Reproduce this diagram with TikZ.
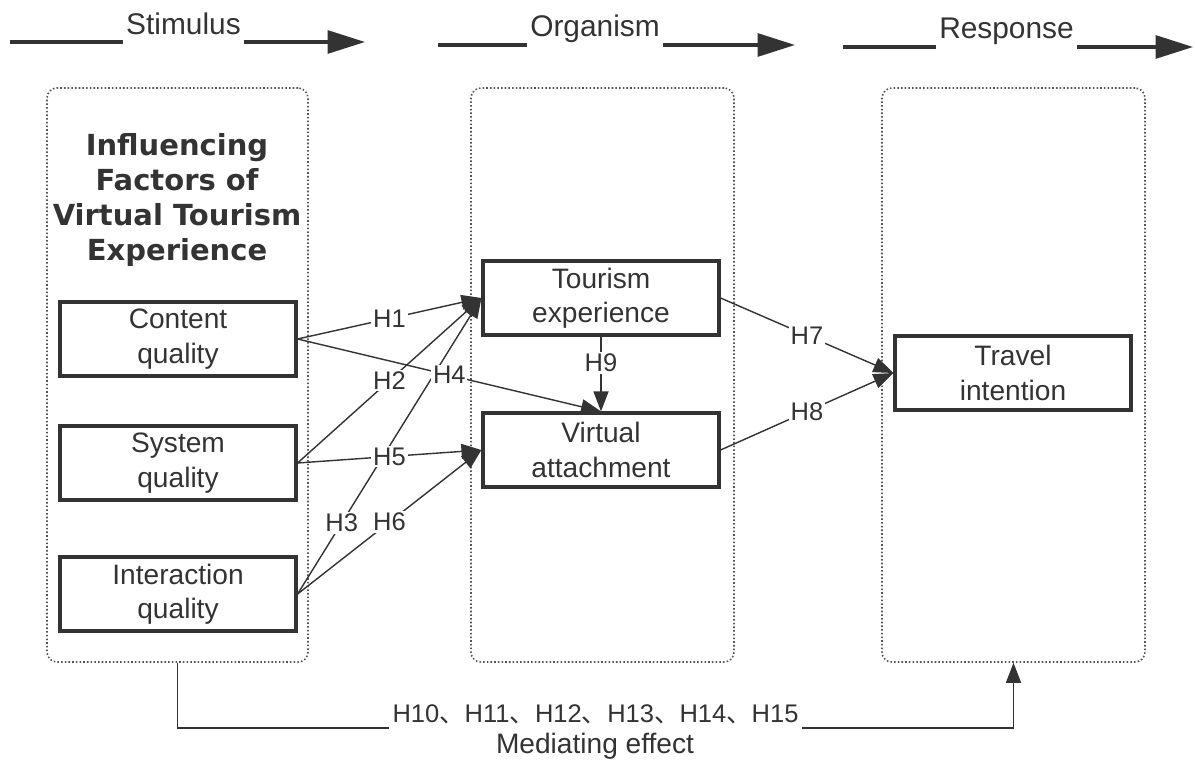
\documentclass[tikz,border=0pt]{standalone}
\usepackage{fontspec}
\setmainfont{Liberation Sans}
\newfontfamily\titlefont{DejaVu Sans}
\newfontfamily\cjk{Noto Sans CJK SC}
\usepackage{tikz}
\usetikzlibrary{arrows.meta, positioning, calc}

\definecolor{ink}{HTML}{333333}
\definecolor{dotgray}{HTML}{555555}
\newcommand{\dunhao}{{\cjk 、}}

\begin{document}
\begin{tikzpicture}[
  stage/.style={draw=dotgray, line width=0.9pt, dash pattern=on 0.9pt off 1.2pt, rounded corners=0.2cm, minimum height=11.48cm},
  factor/.style={draw=ink, line width=1.8pt, minimum width=4.72cm, minimum height=1.48cm, align=center, text=ink, font=\fontsize{16}{19.5}\selectfont},
  head/.style={text=ink, font=\fontsize{17}{20}\selectfont, anchor=base, inner sep=1.5pt},
  flowline/.style={draw=ink, line width=1.8pt},
  flow/.style={flowline, -{Triangle[length=7.5mm, width=4.6mm]}},
  hyp/.style={draw=ink, line width=0.8pt, -{Triangle[length=4mm, width=3mm]}},
  hlab/.style={fill=white, text=ink, inner sep=1pt, font=\fontsize{14.5}{16}\selectfont}
]
\useasboundingbox (0, 0) rectangle (23.9, 15.2);

% S-O-R headers
\node[head] (stim) at (3.67, 14.50) {Stimulus};
\node[head] (orga) at (11.90, 14.46) {Organism};
\node[head] (resp) at (20.13, 14.42) {Response};
\coordinate (stimL) at (0.20, 14.36);
\coordinate (stimR) at (7.30, 14.36);
\coordinate (orgaL) at (8.76, 14.30);
\coordinate (orgaR) at (15.90, 14.30);
\coordinate (respL) at (16.86, 14.26);
\coordinate (respR) at (23.86, 14.26);
\draw[flowline] (stimL) -- (stimL -| stim.west);
\draw[flow] (stimR -| stim.east) -- (stimR);
\draw[flowline] (orgaL) -- (orgaL -| orga.west);
\draw[flow] (orgaR -| orga.east) -- (orgaR);
\draw[flowline] (respL) -- (respL -| resp.west);
\draw[flow] (respR -| resp.east) -- (respR);

% dotted stages
\node[stage, minimum width=5.22cm] (sbox) at (3.55, 7.70) {};
\node[stage, minimum width=5.26cm] (obox) at (12.05, 7.70) {};
\node[stage, minimum width=5.26cm] (rbox) at (20.27, 7.70) {};

\node[align=center, text=ink, font=\titlefont\bfseries\fontsize{16.5}{20}\selectfont] (title) at (3.54, 11.20) {Influencing\\Factors of\\Virtual Tourism\\Experience};

% factors
\node[factor] (content) at (3.56, 8.42) {Content\\quality};
\node[factor] (system) at (3.56, 5.94) {System\\quality};
\node[factor] (inter) at (3.56, 3.32) {Interaction\\quality};
\node[factor] (tour) at (12.02, 9.24) {Tourism\\experience};
\node[factor] (virt) at (12.02, 6.20) {Virtual\\attachment};
\node[factor] (travel) at (20.26, 7.74) {Travel\\intention};

% hypotheses
\draw[hyp] (content.east) -- node[hlab] {H1} (tour.west);
\draw[hyp] (system.east) -- node[hlab] {H2} (tour.west);
\draw[hyp] (inter.east) -- node[hlab, pos=0.24] {H3} (tour.west);
\draw[hyp] (content.east) -- node[hlab] {H4} (virt.north);
\draw[hyp] (system.east) -- node[hlab] {H5} (virt.west);
\draw[hyp] (inter.east) -- node[hlab] {H6} (virt.west);
\draw[hyp] (tour.east) -- node[hlab] {H7} (travel.west);
\draw[hyp] (virt.east) -- node[hlab] {H8} (travel.west);
\draw[hyp] (tour.south) -- node[hlab, pos=0.35] {H9} (virt.north);

% mediating effect
\draw[hyp] (sbox.south) -- ++(0, -1.30) -| node[hlab, pos=0.25, anchor=base, yshift=0.1cm, inner xsep=2pt, inner ysep=5pt] (medh) {H10\dunhao H11\dunhao H12\dunhao H13\dunhao H14\dunhao H15} (rbox.south);
\node[text=ink, font=\fontsize{16}{18}\selectfont] (medl) at (11.90, 0.27) {Mediating effect};

\end{tikzpicture}
\end{document}
